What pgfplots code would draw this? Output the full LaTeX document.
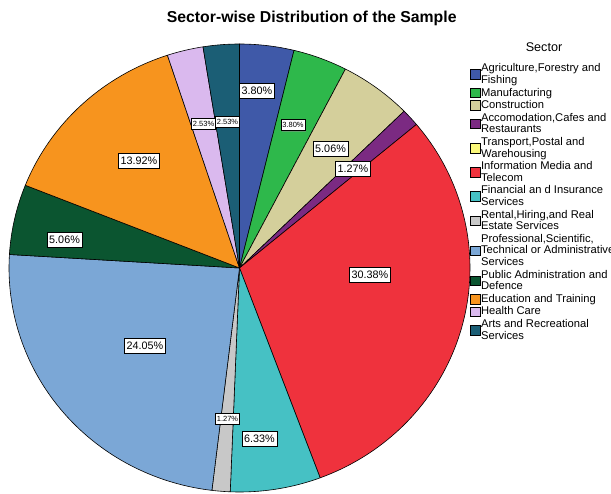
\documentclass[border=0pt]{standalone}
\usepackage{fontspec}
\setmainfont{Liberation Sans}
\usepackage{pgfplots}
\pgfplotsset{compat=1.18}
\usetikzlibrary{shadows}
\definecolor{cAgri}{RGB}{63,89,168}
\definecolor{cManu}{RGB}{46,184,75}
\definecolor{cCons}{RGB}{212,207,155}
\definecolor{cAcco}{RGB}{123,42,130}
\definecolor{cTran}{RGB}{251,248,122}
\definecolor{cInfo}{RGB}{239,50,61}
\definecolor{cFin}{RGB}{70,193,196}
\definecolor{cRent}{RGB}{200,200,200}
\definecolor{cProf}{RGB}{123,167,214}
\definecolor{cPub}{RGB}{11,85,48}
\definecolor{cEdu}{RGB}{247,148,30}
\definecolor{cHea}{RGB}{218,185,238}
\definecolor{cArts}{RGB}{27,94,117}
% #1 = cumulative start (percent), #2 = share (percent), #3 = colour
\newcommand{\slice}[3]{%
  \addplot[forget plot, fill=#3, draw=black, line width=0.6pt, line join=round,
    domain=0:81, samples=82, variable=\t]
  ({((\t>0.5)*(\t<80.5))*cos(90-3.6*(#1+#2*(\t-1)/79))},
   {((\t>0.5)*(\t<80.5))*sin(90-3.6*(#1+#2*(\t-1)/79))});
}
\tikzset{
  lbl/.style={draw=black, fill=white, line width=0.5pt,
    drop shadow={shadow xshift=0.8pt, shadow yshift=-0.8pt, fill=black!45}},
  big/.style={lbl, inner xsep=2pt, inner ysep=3.6pt, font=\fontsize{10.8}{12}\selectfont},
  small/.style={lbl, inner xsep=1.5pt, inner ysep=3pt, font=\fontsize{7.5}{8}\selectfont},
}
\begin{document}
\begin{tikzpicture}[x=1pt,y=1pt]
\useasboundingbox (0,0) rectangle (611,494);
\node[font=\fontsize{15.8}{18}\selectfont\bfseries] at (311.7,476) {Sector-wise Distribution of the Sample};
\node[font=\fontsize{12.6}{14}\selectfont] at (544,446.5) {Sector};
\begin{axis}[
  at={(9pt,2pt)}, anchor=south west,
  scale only axis, width=461pt, height=448pt,
  xmin=-1, xmax=1, ymin=-1, ymax=1,
  hide axis, clip=false,
  legend image code/.code={\draw[#1,draw=black,line width=0.5pt] (0pt,-4.8pt) rectangle (9.6pt,4.8pt);},
  legend cell align=left,
  legend style={draw=none, fill=none, at={(1.0005,0.9575)}, anchor=north west,
    font=\fontsize{11.2}{11.7}\selectfont, row sep=1.7pt, inner sep=0pt,
    cells={align=left}, nodes={inner sep=0.6pt},
    /tikz/every even column/.append style={column sep=1.8pt}},
]
\slice{0}{3.80}{cAgri}
\slice{3.80}{3.80}{cManu}
\slice{7.60}{5.06}{cCons}
\slice{12.66}{1.27}{cAcco}
\slice{13.93}{30.38}{cInfo}
\slice{44.31}{6.33}{cFin}
\slice{50.64}{1.27}{cRent}
\slice{51.91}{24.05}{cProf}
\slice{75.96}{5.06}{cPub}
\slice{81.02}{13.92}{cEdu}
\slice{94.94}{2.53}{cHea}
\slice{97.47}{2.53}{cArts}

\addlegendimage{fill=cAgri}\addlegendentry{Agriculture,Forestry and\\Fishing}
\addlegendimage{fill=cManu}\addlegendentry{Manufacturing}
\addlegendimage{fill=cCons}\addlegendentry{Construction}
\addlegendimage{fill=cAcco}\addlegendentry{Accomodation,Cafes and\\Restaurants}
\addlegendimage{fill=cTran}\addlegendentry{Transport,Postal and\\Warehousing}
\addlegendimage{fill=cInfo}\addlegendentry{Information Media and\\Telecom}
\addlegendimage{fill=cFin}\addlegendentry{Financial an d Insurance\\Services}
\addlegendimage{fill=cRent}\addlegendentry{Rental,Hiring,and Real\\Estate Services}
\addlegendimage{fill=cProf}\addlegendentry{Professional,Scientific,\\Technical or Administrative\\Services}
\addlegendimage{fill=cPub}\addlegendentry{Public Administration and\\Defence}
\addlegendimage{fill=cEdu}\addlegendentry{Education and Training}
\addlegendimage{fill=cHea}\addlegendentry{Health Care}
\addlegendimage{fill=cArts}\addlegendentry{Arts and Recreational\\Services}

\node[big] at (axis cs:0.0759,0.790) {3.80\%};
\node[small] at (axis cs:0.232,0.638) {3.80\%};
\node[big] at (axis cs:0.395,0.531) {5.06\%};
\node[big] at (axis cs:0.492,0.444) {1.27\%};
\node[big] at (axis cs:0.566,-0.031) {30.38\%};
\node[big] at (axis cs:0.0868,-0.761) {6.33\%};
\node[small] at (axis cs:-0.052,-0.674) {1.27\%};
\node[big] at (axis cs:-0.410,-0.348) {24.05\%};
\node[big] at (axis cs:-0.759,0.125) {5.06\%};
\node[big] at (axis cs:-0.436,0.480) {13.92\%};
\node[small] at (axis cs:-0.156,0.645) {2.53\%};
\node[small] at (axis cs:-0.052,0.652) {2.53\%};
\end{axis}
\end{tikzpicture}
\end{document}
